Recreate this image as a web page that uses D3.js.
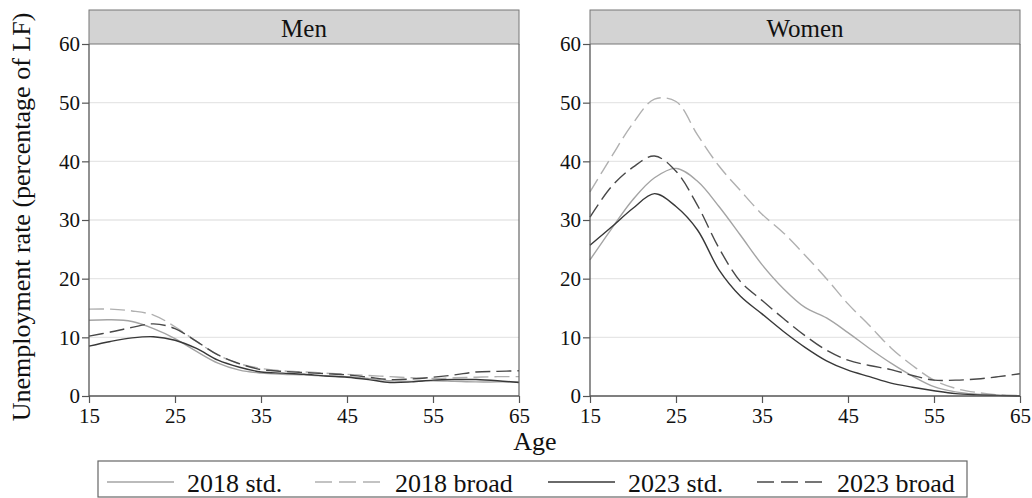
<!DOCTYPE html>
<html><head><meta charset="utf-8">
<script src="https://cdn.jsdelivr.net/npm/d3@7"></script>
<style>body{margin:0;background:#fff}svg{display:block}</style>
</head><body>
<script>
const ages = [15,17.5,20,22.5,25,27.5,30,32.5,35,37.5,40,42.5,45,47.5,50,52.5,55,57.5,60,62.5,65];
const panels = ["Men","Women"];
const seriesNames = ["2018 std.","2018 broad","2023 std.","2023 broad"];
// Men
const men2018std   = [12.9,13.0,12.7,11.5,9.8,7.6,5.6,4.4,3.9,3.7,3.6,3.4,3.3,3.0,2.6,2.5,2.6,2.5,2.4,2.4,2.4];
const men2018broad = [14.8,14.8,14.5,13.8,11.8,9.3,7.0,5.5,4.7,4.3,4.1,3.9,3.7,3.5,3.3,3.1,3.0,3.1,3.2,3.3,3.3];
const men2023std   = [8.5,9.3,9.9,10.1,9.5,8.1,6.1,4.9,4.1,3.9,3.7,3.4,3.2,2.8,2.3,2.4,2.7,2.8,2.8,2.6,2.3];
const men2023broad = [10.2,10.9,11.7,12.3,11.5,9.3,7.0,5.5,4.5,4.2,4.0,3.8,3.6,3.2,2.8,2.9,3.2,3.6,4.1,4.2,4.3];
// Women
const women2018std   = [23.2,28.5,33.5,37.2,38.8,36.6,32.3,27.4,22.4,18.3,15.1,13.3,10.8,8.1,5.6,3.4,1.6,0.7,0.3,0.1,0.0];
const women2018broad = [34.8,40.8,46.5,50.6,50.2,44.5,39.2,35.0,31.0,27.8,24.0,20.0,15.7,12.0,8.2,5.2,2.7,1.3,0.6,0.2,0.1];
const women2023std   = [25.7,28.8,32.0,34.5,32.3,28.3,21.5,17.0,14.0,11.0,8.3,6.0,4.4,3.3,2.2,1.5,0.9,0.4,0.2,0.1,0.0];
const women2023broad = [30.5,35.7,39.0,40.9,38.3,32.5,25.2,19.5,16.3,13.2,10.3,7.8,6.1,5.2,4.5,3.5,2.7,2.7,2.9,3.3,3.8];
const xTicks = [15,25,35,45,55,65];
const yTicks = [0,10,20,30,40,50,60];

const data = {
  "Men":   [men2018std, men2018broad, men2023std, men2023broad],
  "Women": [women2018std, women2018broad, women2023std, women2023broad]
};
const colors = ["#a4a4a4","#b0b0b0","#383838","#484848"];
const dashes = [null,"15,6",null,"15,6"];
const FONT = "Liberation Serif";

const W=1032,H=498;
const svg=d3.select("body").append("svg").attr("width",W).attr("height",H);

const panelX=[89,590], pw=430, plotTop=44, plotBottom=396, stripTop=10;
const y=d3.scaleLinear().domain([0,60]).range([plotBottom,plotTop]);

panels.forEach((p,i)=>{
  const x=d3.scaleLinear().domain([15,65]).range([panelX[i],panelX[i]+pw]);
  const g=svg.append("g");
  g.selectAll(".grid").data(yTicks.filter(t=>t>0&&t<60)).join("line")
    .attr("x1",panelX[i]).attr("x2",panelX[i]+pw)
    .attr("y1",d=>y(d)).attr("y2",d=>y(d))
    .attr("stroke","#e6e6e6").attr("stroke-width",1.3);
  g.append("rect").attr("x",panelX[i]).attr("y",stripTop).attr("width",pw).attr("height",plotTop-stripTop)
    .attr("fill","#d3d3d3").attr("stroke","#777").attr("stroke-width",1);
  g.append("text").attr("x",panelX[i]+pw/2).attr("y",(stripTop+plotTop)/2+1)
    .attr("text-anchor","middle").attr("dominant-baseline","central")
    .attr("font-family",FONT).attr("font-size",25).attr("fill","#111").text(p);
  const line=d3.line().x((d,k)=>x(ages[k])).y(d=>y(d)).curve(d3.curveCatmullRom.alpha(0.5));
  data[p].forEach((vals,s)=>{
    g.append("path").attr("d",line(vals)).attr("fill","none")
      .attr("stroke",colors[s]).attr("stroke-width",1.4)
      .attr("stroke-dasharray",dashes[s]);
  });
  g.append("line").attr("x1",panelX[i]+pw).attr("x2",panelX[i]+pw).attr("y1",plotTop).attr("y2",plotBottom)
    .attr("stroke","#666").attr("stroke-width",1.2);
  const ax=g.append("g").attr("transform",`translate(0,${plotBottom})`)
    .call(d3.axisBottom(x).tickValues(xTicks).tickSize(7).tickPadding(5).tickFormat(d3.format("d")));
  const ay=g.append("g").attr("transform",`translate(${panelX[i]},0)`)
    .call(d3.axisLeft(y).tickValues(yTicks).tickSize(7).tickPadding(2).tickFormat(d3.format("d")));
  [ax,ay].forEach(a=>{
    a.attr("font-family",null).attr("font-size",null);
    a.select(".domain").attr("stroke","#555").attr("stroke-width",1.3);
    a.selectAll(".tick line").attr("stroke","#555").attr("stroke-width",1.2);
    a.selectAll("text").attr("fill","#111").attr("font-family",FONT).attr("font-size",21);
  });
  ay.select(".domain").attr("d",`M0,${plotBottom}V${plotTop}`);
  ax.select(".domain").attr("d",`M${panelX[i]},0H${panelX[i]+pw}`);
});

svg.append("text").attr("transform","translate(21,217) rotate(-90)")
  .attr("text-anchor","middle").attr("dominant-baseline","central")
  .attr("font-family",FONT).attr("font-size",26).attr("fill","#111").text("Unemployment rate (percentage of LF)");
svg.append("text").attr("x",535).attr("y",450).attr("text-anchor","middle")
  .attr("font-family",FONT).attr("font-size",26).attr("fill","#111").text("Age");

const lg=svg.append("g");
lg.append("rect").attr("x",98).attr("y",461).attr("width",869).attr("height",36)
  .attr("fill","#fff").attr("stroke","#666").attr("stroke-width",1.2);
const lx=[107,315,548,757];
seriesNames.forEach((n,s)=>{
  lg.append("line").attr("x1",lx[s]).attr("x2",lx[s]+67).attr("y1",482).attr("y2",482)
    .attr("stroke",colors[s]).attr("stroke-width",1.5).attr("stroke-dasharray",dashes[s]?"17,7":null);
  lg.append("text").attr("x",lx[s]+80).attr("y",492).attr("font-family",FONT)
    .attr("font-size",26).attr("fill","#111").text(n);
});
</script>
</body></html>
